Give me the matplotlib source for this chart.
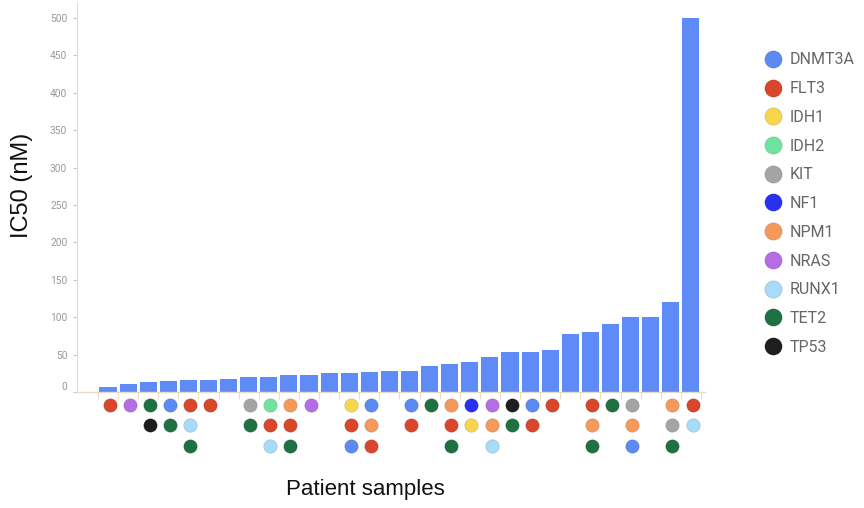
import matplotlib
matplotlib.use("Agg")
import matplotlib.pyplot as plt
from matplotlib.lines import Line2D

# ---------------- data ----------------
ic50 = [7, 11, 13, 15, 16, 16, 17, 20, 20, 23, 23, 25, 25, 27, 28, 28,
        35, 38, 40, 47, 54, 54, 56, 78, 80, 91, 100, 100, 120, 500]

genes = ["DNMT3A", "FLT3", "IDH1", "IDH2", "KIT", "NF1", "NPM1",
         "NRAS", "RUNX1", "TET2", "TP53"]
gene_colors = ["#5b8af2", "#d8462c", "#f8d64c", "#72e2a2", "#a4a4a4",
               "#2a31ee", "#f5995b", "#b46de4", "#a8dbf9", "#1f7141", "#1e1e1e"]

# mutations per patient sample (top to bottom)
mutations = [
    ["FLT3"],
    ["NRAS"],
    ["TET2", "TP53"],
    ["DNMT3A", "TET2"],
    ["FLT3", "RUNX1", "TET2"],
    ["FLT3"],
    [],
    ["KIT", "TET2"],
    ["IDH2", "FLT3", "RUNX1"],
    ["NPM1", "FLT3", "TET2"],
    ["NRAS"],
    [],
    ["IDH1", "FLT3", "DNMT3A"],
    ["DNMT3A", "NPM1", "FLT3"],
    [],
    ["DNMT3A", "FLT3"],
    ["TET2"],
    ["NPM1", "FLT3", "TET2"],
    ["NF1", "IDH1"],
    ["NRAS", "NPM1", "RUNX1"],
    ["TP53", "TET2"],
    ["DNMT3A", "FLT3"],
    ["FLT3"],
    [],
    ["FLT3", "NPM1", "TET2"],
    ["TET2"],
    ["KIT", "NPM1", "DNMT3A"],
    [],
    ["NPM1", "KIT", "TET2"],
    ["FLT3", "RUNX1"],
]

y_ticks = [0, 50, 100, 150, 200, 250, 300, 350, 400, 450, 500]

# ---------------- figure ----------------
W, H = 864, 508
fig = plt.figure(figsize=(W / 100, H / 100), dpi=100)
fig.patch.set_facecolor("white")

def rect(x0, y0, x1, y1):
    return [x0 / W, 1 - y1 / H, (x1 - x0) / W, (y1 - y0) / H]

color_of = dict(zip(genes, gene_colors))
n = len(ic50)
xs = list(range(n))
xlim = (-1.54, 29.7)

# bar axes
ax = fig.add_axes(rect(77, 3, 705, 392))
ax.bar(xs, ic50, width=0.85, color="#5e8bf5", zorder=2)
ax.set_xlim(*xlim)
ax.set_ylim(0, 520)
ax.set_yticks(y_ticks)
ax.set_yticklabels([str(t) for t in y_ticks], fontsize=7.3, color="#999999",
                   family=["Roboto", "DejaVu Sans"])
for lab in ax.get_yticklabels():
    if lab.get_text() == "0":
        lab.set_verticalalignment("bottom")
ax.tick_params(axis="y", length=3, color="#cccccc", width=0.8, pad=4)
ax.set_xticks([x - 0.5 for x in xs] + [n - 0.5])
ax.set_xticklabels([])
ax.tick_params(axis="x", length=5, color="#e8ddc6", width=0.8)
for s in ["top", "right"]:
    ax.spines[s].set_visible(False)
ax.spines["left"].set_color("#dddddd")
ax.spines["bottom"].set_color("#e6dcc8")
ax.spines["left"].set_linewidth(0.8)
ax.spines["bottom"].set_linewidth(1.0)

# mutation dots axes
ax2 = fig.add_axes(rect(77, 395, 705, 457))
ax2.set_xlim(*xlim)
ax2.set_ylim(2.537, -0.488)
ax2.axis("off")
for i, muts in enumerate(mutations):
    for r, g in enumerate(muts):
        ax2.scatter([xs[i] + 0.08], [r], s=95, color=color_of[g],
                    edgecolors="#00000022", linewidths=0.6, zorder=3,
                    clip_on=False)

# legend
leg_handles = [Line2D([0], [0], marker="o", linestyle="none", markersize=12.5,
                      markerfacecolor=c, markeredgecolor="#00000022",
                      markeredgewidth=0.6)
               for c in gene_colors]
leg = fig.legend(leg_handles, genes, loc="upper left",
                 bbox_to_anchor=(751 / W, 1 - 38 / H), frameon=False,
                 handlelength=1.0, handletextpad=0.5, labelspacing=0.86,
                 prop={"family": ["Roboto", "DejaVu Sans"], "size": 11.5})
for t in leg.get_texts():
    t.set_color("#666666")

# axis titles
fig.text(22 / W, 1 - 185 / H, "IC50 (nM)", rotation=90, ha="center",
         va="center", fontsize=17, family=["Liberation Sans", "DejaVu Sans"],
         color="#111111")
fig.text(365 / W, 1 - 490 / H, "Patient samples", ha="center", va="center",
         fontsize=16, family=["Liberation Sans", "DejaVu Sans"],
         color="#111111")

fig.savefig("out.png", dpi=100)
